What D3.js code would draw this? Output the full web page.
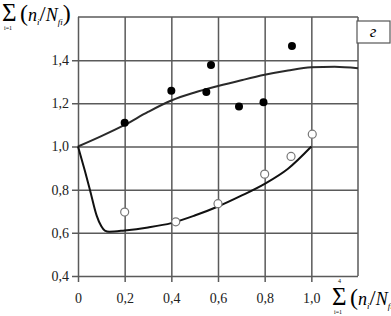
<!DOCTYPE html>
<html>
<head>
<meta charset="utf-8">
<script src="https://cdn.jsdelivr.net/npm/d3@7"></script>
<style>
  body { margin: 0; background: #fff; }
  svg, svg text { font-family: "Liberation Serif", "DejaVu Serif", serif !important; }
</style>
</head>
<body>
<div id="chart"></div>
<script>
// values
const xTicks = [0, 0.2, 0.4, 0.6, 0.8, 1.0];
const yTicks = [0.4, 0.6, 0.8, 1.0, 1.2, 1.4];

const filledX = [0.20, 0.40, 0.55, 0.57, 0.69, 0.795, 0.917];
const filledY = [1.11, 1.258, 1.252, 1.378, 1.185, 1.205, 1.466];

const openX = [0.20, 0.419, 0.60, 0.80, 0.913, 1.004];
const openY = [0.696, 0.651, 0.735, 0.872, 0.954, 1.057];

const upperX = [0, 0.1, 0.2, 0.3, 0.4, 0.5, 0.6, 0.7, 0.8, 0.9, 1.0, 1.1, 1.2];
const upperY = [1.0, 1.048, 1.10, 1.16, 1.213, 1.25, 1.28, 1.307, 1.332, 1.352, 1.367, 1.37, 1.363];

const lowerX = [0, 0.03, 0.051, 0.08, 0.1, 0.115, 0.134, 0.2, 0.3, 0.4, 0.5, 0.6, 0.7, 0.8, 0.9, 1.0];
const lowerY = [1.0, 0.885, 0.80, 0.68, 0.63, 0.61, 0.605, 0.611, 0.625, 0.645, 0.68, 0.722, 0.772, 0.827, 0.897, 1.0];

let config_size = {
    svg_width: 391,
    svg_height: 316,
    plot_margin: { left: 78, right: 33, top: 17, buttom: 40 },
};
let plot_width = config_size.svg_width - config_size.plot_margin.left - config_size.plot_margin.right;
let plot_height = config_size.svg_height - config_size.plot_margin.top - config_size.plot_margin.buttom;

let svg = d3.select("#chart").append("svg")
    .attr("width", config_size.svg_width).attr("height", config_size.svg_height);
let plot_g = svg.append("g")
    .attr("transform", `translate(${config_size.plot_margin.left},${config_size.plot_margin.top})`);

let x = d3.scaleLinear().domain([0, 1.2]).range([0, plot_width]);
let y = d3.scaleLinear().domain([0.4, 1.6]).range([plot_height, 0]);

const gridColor = "#5a5a5a";
const comma = d => d === 0 ? "0" : d3.format(".1f")(d).replace(".", ",");

// horizontal grid + left labels
let yAxis = plot_g.append("g")
    .call(d3.axisLeft(y).tickValues(yTicks).tickSize(-plot_width).tickFormat(comma));
yAxis.attr("font-family", null).attr("font-size", 14);
yAxis.select(".domain").remove();
yAxis.selectAll("line").attr("x1", -6).attr("stroke", gridColor).attr("stroke-width", 1.5);
yAxis.selectAll("text").attr("fill", "#222").attr("x", -9);

// vertical grid + bottom labels
let xAxis = plot_g.append("g")
    .attr("transform", `translate(0,${plot_height})`)
    .call(d3.axisBottom(x).tickValues(xTicks).tickSize(-plot_height).tickFormat(comma));
xAxis.attr("font-family", null).attr("font-size", 14);
xAxis.select(".domain").remove();
xAxis.selectAll("line").attr("y1", 6).attr("stroke", gridColor).attr("stroke-width", 1.5);
xAxis.selectAll("text").attr("fill", "#222").attr("y", 17);

// top and right border
plot_g.append("line").attr("x1", 0).attr("x2", plot_width).attr("y1", y(1.6)).attr("y2", y(1.6))
    .attr("stroke", gridColor).attr("stroke-width", 1.5);
plot_g.append("line").attr("x1", x(1.2)).attr("x2", x(1.2)).attr("y1", 0).attr("y2", plot_height)
    .attr("stroke", gridColor).attr("stroke-width", 1.5);

// curves
let line = d3.line().x(d => x(d[0])).y(d => y(d[1])).curve(d3.curveMonotoneX);
plot_g.append("path").datum(d3.zip(upperX, upperY))
    .attr("fill", "none").attr("stroke", "#2a2a2a").attr("stroke-width", 2).attr("d", line);
plot_g.append("path").datum(d3.zip(lowerX, lowerY))
    .attr("fill", "none").attr("stroke", "#111").attr("stroke-width", 2).attr("d", line);

// points
plot_g.selectAll("circle.filled").data(d3.zip(filledX, filledY)).join("circle")
    .attr("class", "filled").attr("cx", d => x(d[0])).attr("cy", d => y(d[1]))
    .attr("r", 4).attr("fill", "#000");
plot_g.selectAll("circle.open").data(d3.zip(openX, openY)).join("circle")
    .attr("class", "open").attr("cx", d => x(d[0])).attr("cy", d => y(d[1]))
    .attr("r", 4).attr("fill", "#fff").attr("stroke", "#777").attr("stroke-width", 1.2);

// panel letter
svg.append("rect").attr("x", 357).attr("y", 21).attr("width", 33).attr("height", 22)
    .attr("fill", "#fff").attr("stroke", "#555").attr("stroke-width", 1.2);
svg.append("text").attr("x", 373).attr("y", 37).attr("text-anchor", "middle")
    .attr("font-size", 17).attr("font-style", "italic").text("г");

// sum labels for the axes
function sumLabel(g, withTop) {
    g.append("text").attr("x", 0).attr("y", 17).attr("font-size", 25).text("Σ");
    if (withTop) g.append("text").attr("x", 6).attr("y", -5).attr("font-size", 6).text("4");
    g.append("text").attr("x", 2).attr("y", 26).attr("font-size", 6).text("i=1");
    let t = g.append("text").attr("x", 18).attr("y", 17).attr("font-size", 18);
    t.append("tspan").attr("font-size", 24).text("(");
    t.append("tspan").attr("font-style", "italic").text("n");
    t.append("tspan").attr("font-style", "italic").attr("font-size", 9).attr("dy", 4).text("i");
    t.append("tspan").attr("dy", -4).attr("font-size", 22).text("/");
    t.append("tspan").attr("font-style", "italic").text("N");
    t.append("tspan").attr("font-style", "italic").attr("font-size", 9).attr("dy", 4).text("fi");
    t.append("tspan").attr("dy", -4).attr("font-size", 24).text(")");
}
sumLabel(svg.append("g").attr("transform", "translate(2,4)"), false);
sumLabel(svg.append("g").attr("transform", "translate(332,288)"), true);
</script>
</body>
</html>
